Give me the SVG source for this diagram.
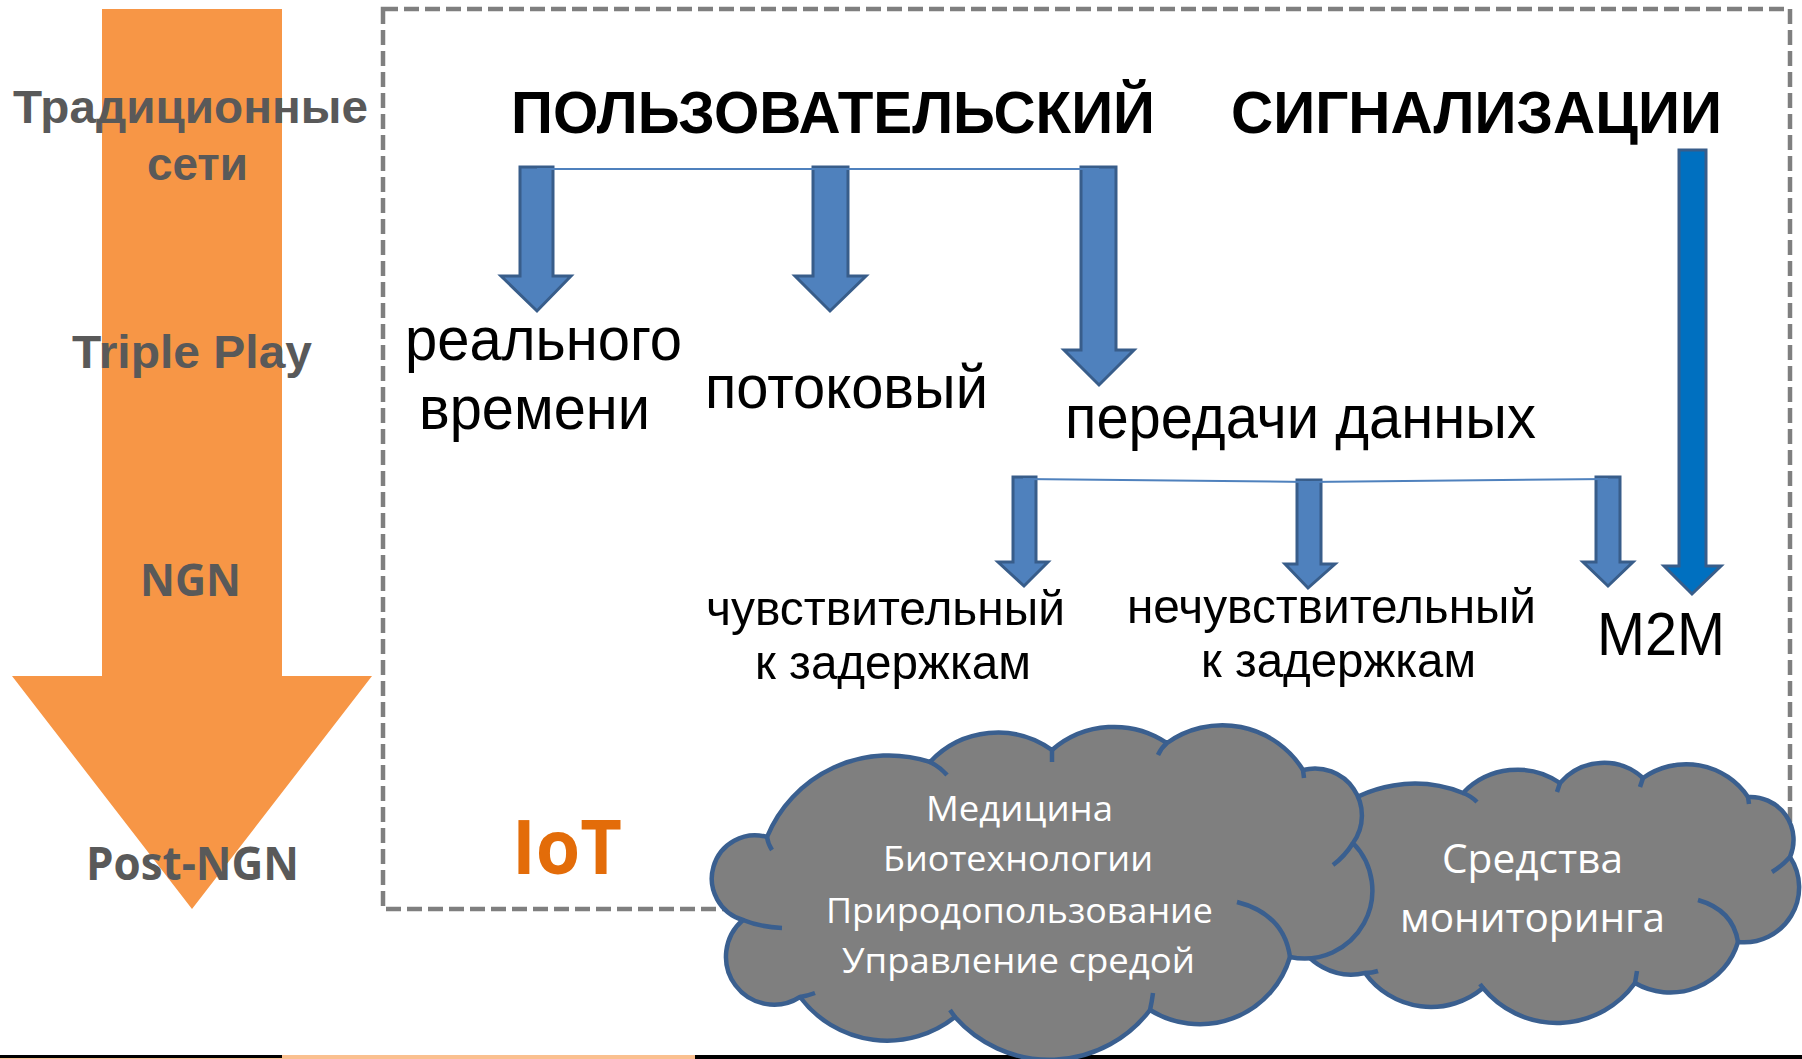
<svg xmlns="http://www.w3.org/2000/svg" width="1802" height="1059" viewBox="0 0 1802 1059">
  <style>
    .era { font-family: "Liberation Sans", Arial, sans-serif; font-weight: bold; font-size: 47px; fill: #595959; }
    .era2 { font-family: "Open Sans", "Noto Sans", sans-serif; font-weight: bold; fill: #595959; }
    .head { font-family: "Liberation Sans", Arial, sans-serif; font-weight: bold; font-size: 60px; fill: #000000; }
    .lvl1 { font-family: "Liberation Sans", Arial, sans-serif; font-size: 61px; fill: #000000; }
    .lvl2 { font-family: "Liberation Sans", Arial, sans-serif; font-size: 49px; fill: #000000; }
    .cloudtxt { font-family: "Open Sans", "Noto Sans", sans-serif; fill: #ffffff; }
    .blk { fill: #4F81BD; stroke: #385D8A; stroke-width: 3; stroke-linejoin: miter; }
    .blk2 { fill: #0070C0; stroke: #385D8A; stroke-width: 3; }
    .link { fill: none; stroke: #4F81BD; stroke-width: 2; }
    .cloud { fill: #7F7F7F; stroke: #3A5F8F; stroke-width: 4.5; stroke-linejoin: round; }
    .tail { fill: none; stroke: #3A5F8F; stroke-width: 4.5; stroke-linecap: butt; }
  </style>

  <!-- evolution arrow on the left -->
  <g id="evolution">
    <polygon points="102,9 282,9 282,676 372,676 192,909 12,676 102,676" fill="#F79646"/>
    <text class="era" x="13" y="123" textLength="355" lengthAdjust="spacingAndGlyphs">Традиционные</text>
    <text class="era" x="147" y="180" textLength="101" lengthAdjust="spacingAndGlyphs">сети</text>
    <text class="era" x="72" y="368" textLength="240" lengthAdjust="spacingAndGlyphs">Triple Play</text>
    <text class="era2" x="140" y="596" font-size="45" textLength="101" lengthAdjust="spacingAndGlyphs">NGN</text>
    <text class="era2" x="86" y="880" font-size="46" textLength="213" lengthAdjust="spacingAndGlyphs">Post-NGN</text>
  </g>

  <!-- IoT frame -->
  <g id="iot-frame">
    <rect x="383" y="9" width="1407" height="900" fill="none" stroke="#7F7F7F" stroke-width="4.5" stroke-dasharray="15 6"/>
    <text x="512" y="874" font-family="'Open Sans', 'Noto Sans', sans-serif" font-weight="bold" font-size="75" fill="#E36C09" textLength="110" lengthAdjust="spacingAndGlyphs">IoT</text>
  </g>

  <!-- plane headings -->
  <g id="user-plane">
    <text class="head" x="511" y="133" textLength="644" lengthAdjust="spacingAndGlyphs">ПОЛЬЗОВАТЕЛЬСКИЙ</text>
  </g>
  <g id="signalling-plane">
    <text class="head" x="1231" y="133" textLength="491" lengthAdjust="spacingAndGlyphs">СИГНАЛИЗАЦИИ</text>
  </g>

  <!-- traffic classes -->
  <g id="real-time">
    <text class="lvl1" x="405" y="360" textLength="277" lengthAdjust="spacingAndGlyphs">реального</text>
    <text class="lvl1" x="419" y="429" textLength="231" lengthAdjust="spacingAndGlyphs">времени</text>
  </g>
  <g id="streaming">
    <text class="lvl1" x="705" y="408" textLength="283" lengthAdjust="spacingAndGlyphs">потоковый</text>
  </g>
  <g id="data">
    <text class="lvl1" x="1065" y="438" textLength="471" lengthAdjust="spacingAndGlyphs">передачи данных</text>
  </g>
  <g id="delay-sensitive">
    <text class="lvl2" x="706" y="625" textLength="359" lengthAdjust="spacingAndGlyphs">чувствительный</text>
    <text class="lvl2" x="755" y="679" textLength="276" lengthAdjust="spacingAndGlyphs">к задержкам</text>
  </g>
  <g id="delay-insensitive">
    <text class="lvl2" x="1127" y="623" textLength="409" lengthAdjust="spacingAndGlyphs">нечувствительный</text>
    <text class="lvl2" x="1201" y="677" textLength="275" lengthAdjust="spacingAndGlyphs">к задержкам</text>
  </g>
  <g id="m2m">
    <text class="lvl1" x="1597" y="655" font-size="58" textLength="128" lengthAdjust="spacingAndGlyphs">M2M</text>
  </g>

  <!-- block arrows and branch lines -->
  <g id="connectors">
    <polygon class="blk" points="520,167 553,167 553,276 571,276 537,311 501,276 520,276"/>
    <polygon class="blk" points="813,167 848,167 848,276 866,276 830,311 795,276 813,276"/>
    <polygon class="blk" points="1081,167 1116,167 1116,350 1134,350 1099,385 1064,350 1081,350"/>
    <polygon class="blk2" points="1679,150 1706,150 1706,566 1721,566 1692,594 1664,566 1679,566"/>
    <polygon class="blk" points="1013,477 1036,477 1036,562 1048,562 1024,586 998,562 1013,562"/>
    <polygon class="blk" points="1297,480 1321,480 1321,564 1335,564 1308,588 1285,564 1297,564"/>
    <polygon class="blk" points="1596,477 1620,477 1620,562 1633,562 1608,586 1583,562 1596,562"/>
    <path class="link" d="M 537 169 L 1099 169"/>
    <path class="link" d="M 1023 479 L 1308 482 L 1608 479"/>
  </g>

  <!-- bottom strip -->
  <g id="strip">
    <rect x="0" y="1055" width="1802" height="4" fill="#000000"/>
    <rect x="282" y="1055" width="413" height="4" fill="#FAC090"/>
    <rect x="0" y="1058" width="282" height="1" fill="#FAC090"/>
  </g>

  <!-- monitoring cloud (behind) -->
  <g id="cloud-monitoring">
    <path class="cloud" d="M 1330 815 A 130 130 0 0 1 1463 793 A 75 75 0 0 1 1560 783 A 58 58 0 0 1 1643 778 A 74.5 74.5 0 0 1 1748 797 A 43 43 0 0 1 1790 857 A 55 55 0 0 1 1738 942 A 70.5 70.5 0 0 1 1635 983 A 96 96 0 0 1 1483 988 A 81 81 0 0 1 1365 973 A 60 60 0 0 1 1295 935 L 1300 880 Z"/>
    <path class="tail" d="M 1463 793 Q 1471 796 1477 802 M 1560 783 L 1557 792 M 1643 778 L 1640 787 M 1748 797 L 1749 804 M 1790 857 Q 1782 866 1772 872 M 1698 900 Q 1733 910 1738 942 M 1635 983 L 1637 971 M 1483 988 L 1480 984 M 1365 973 Q 1372 973 1378 971"/>
    <text class="cloudtxt" x="1442" y="873" font-size="40" textLength="181" lengthAdjust="spacingAndGlyphs">Средства</text>
    <text class="cloudtxt" x="1400" y="932" font-size="40" textLength="265" lengthAdjust="spacingAndGlyphs">мониторинга</text>
  </g>

  <!-- application areas cloud -->
  <g id="cloud-areas">
    <path class="cloud" d="M 767 837 A 132 132 0 0 1 930 762 A 93 93 0 0 1 1052 750 A 95 95 0 0 1 1167 743 A 95 95 0 0 1 1303 770 A 47 47 0 0 1 1353 843 A 68 68 0 0 1 1290 957 A 94 94 0 0 1 1150 1010 A 126 126 0 0 1 955 1017 A 109 109 0 0 1 800 997 A 48 48 0 0 1 743 920 A 43.2 43.2 0 1 1 767 837 Z"/>
    <path class="tail" d="M 767 837 Q 768 844 772 850 M 743 920 Q 760 927 782 928 M 800 997 Q 807 996 815 993 M 955 1017 L 950 1010 M 1150 1010 Q 1152 1001 1153 993 M 1237 902 Q 1284 914 1290 957 M 1353 843 Q 1345 856 1333 865 M 1303 770 L 1304 778 M 1167 743 Q 1161 748 1158 755 M 1052 750 L 1052 762 M 930 762 Q 940 767 947 775"/>
    <text class="cloudtxt" x="926" y="821" font-size="34" textLength="187" lengthAdjust="spacingAndGlyphs">Медицина</text>
    <text class="cloudtxt" x="883" y="871" font-size="34" textLength="270" lengthAdjust="spacingAndGlyphs">Биотехнологии</text>
    <text class="cloudtxt" x="826" y="923" font-size="34" textLength="387" lengthAdjust="spacingAndGlyphs">Природопользование</text>
    <text class="cloudtxt" x="842" y="973" font-size="34" textLength="353" lengthAdjust="spacingAndGlyphs">Управление средой</text>
  </g>
</svg>
